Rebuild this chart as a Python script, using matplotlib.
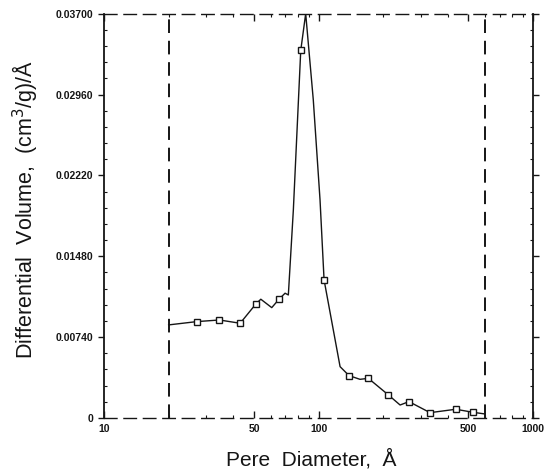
#!/usr/bin/env python3
"""Distribución diferencial de volumen de poro vs diámetro de poro."""
import matplotlib
matplotlib.use("Agg")
import matplotlib.pyplot as plt
from matplotlib.ticker import FixedLocator, NullFormatter, LogLocator

# curva (diámetro Å, volumen diferencial)
curve_d = [20, 27.0, 34.5, 43.1, 50.9, 53.8, 60.5, 65.4, 69.8, 72.3, 76.3,
           82.6, 87.1, 94.5, 101.6, 106.1, 126, 138.7, 156, 170.7, 211.7,
           240, 264, 331, 436, 527, 597]
curve_v = [0.00852, 0.00882, 0.00897, 0.00867, 0.01041, 0.01087, 0.01010,
           0.01087, 0.01142, 0.01126, 0.01905, 0.03364, 0.03700, 0.02912,
           0.01996, 0.01264, 0.00470, 0.00388, 0.00354, 0.00363, 0.00211,
           0.00119, 0.00150, 0.00049, 0.00080, 0.00052, 0.00037]

# puntos medidos (marcadores)
mark_d = [27.0, 34.5, 43.1, 50.9, 65.4, 82.6, 106.1, 138.7, 170.7, 211.7,
          264, 331, 436, 527]
mark_v = [0.00882, 0.00897, 0.00867, 0.01041, 0.01087, 0.03364, 0.01264,
          0.00388, 0.00363, 0.00211, 0.00150, 0.00049, 0.00080, 0.00052]

# límites de integración (líneas verticales discontinuas)
limits_d = [20, 600]

y_ticks = [0, 0.0074, 0.0148, 0.0222, 0.0296, 0.0370]
y_labels = ["0", "0.00740", "0.01480", "0.02220", "0.02960", "0.03700"]
x_ticks = [10, 50, 100, 500, 1000]
x_labels = ["10", "50", "100", "500", "1000"]

ink = "#151515"

fig = plt.figure(figsize=(5.45, 4.71), dpi=100)
ax = fig.add_axes([0.191, 0.1125, 0.787, 0.8585])

ax.plot(curve_d, curve_v, color=ink, lw=1.0, zorder=3)
ax.plot(mark_d, mark_v, linestyle="none", marker="s", markersize=5,
        markerfacecolor="white", markeredgecolor=ink, markeredgewidth=1.0,
        zorder=4)
for d in limits_d:
    ax.axvline(d, color=ink, lw=1.4, linestyle=(0, (7, 4)), zorder=2)

ax.set_xscale("log")
ax.set_xlim(10, 1000)
ax.set_ylim(0, 0.037)

ax.xaxis.set_major_locator(FixedLocator(x_ticks))
ax.set_xticklabels(x_labels)
ax.xaxis.set_minor_locator(LogLocator(base=10, subs=range(2, 10)))
ax.xaxis.set_minor_formatter(NullFormatter())
ax.set_yticks(y_ticks)
ax.set_yticklabels(y_labels)
ax.yaxis.set_minor_locator(FixedLocator(
    [i * 0.00148 for i in range(26)]))

ax.tick_params(axis="both", which="major", labelsize=7.5, colors=ink,
               width=1.0)
ax.tick_params(axis="y", which="major", direction="out", length=4, left=True,
               right=True, pad=4)
ax.tick_params(axis="x", which="major", direction="in", length=5, top=True,
               pad=4)
ax.tick_params(axis="both", which="minor", direction="in", length=2.5,
               width=0.8, top=True, right=True, colors=ink)
for lab in ax.get_xticklabels() + ax.get_yticklabels():
    lab.set_fontweight("bold")
    lab.set_family("Liberation Sans")

for side in ["left", "right"]:
    ax.spines[side].set_linewidth(1.3)
    ax.spines[side].set_color(ink)
for side in ["top", "bottom"]:
    ax.spines[side].set_linewidth(1.0)
    ax.spines[side].set_color(ink)
    ax.spines[side].set_linestyle((0, (9, 5)))

ax.set_xlabel("Pere  Diameter,  Å", fontsize=15, family="Liberation Sans",
              color=ink)
ax.xaxis.set_label_coords(0.482, -0.077)
ax.set_ylabel("Differential  Volume,  (cm$^3$/g)/Å", fontsize=15.5,
              family="Liberation Sans", color=ink)
ax.yaxis.set_label_coords(-0.15, 0.515)

fig.savefig("out.png", dpi=100)
